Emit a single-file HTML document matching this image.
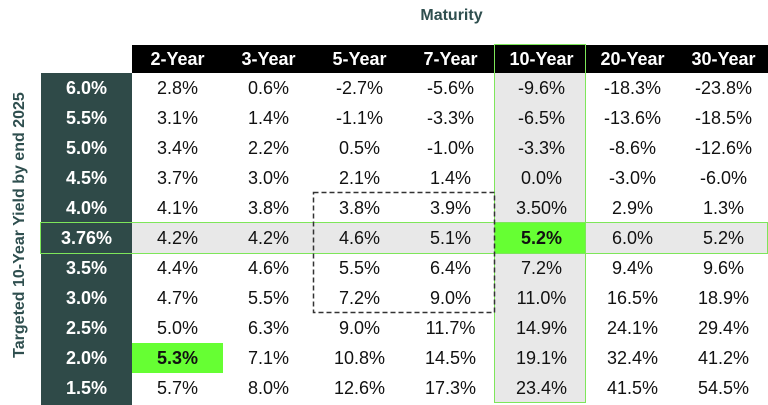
<!DOCTYPE html>
<html><head><style>
body{margin:0;width:768px;height:405px;background:#fff;position:relative;overflow:hidden;font-family:"Liberation Sans",sans-serif;}
.a{position:absolute;}
.c{position:absolute;width:91px;height:30px;line-height:30px;text-align:center;font-size:18px;color:#111;}
.h{color:#fff;font-weight:bold;font-size:18px;}
.l{color:#fff;font-weight:bold;font-size:18px;}
</style></head><body>
<div class="a" style="left:395px;top:7px;width:113px;text-align:center;font-weight:bold;font-size:16px;color:#2f4f4f;">Maturity</div>
<div class="a" style="left:132px;top:45px;width:636px;height:28px;background:#000;"></div>
<div class="a" style="left:41px;top:73px;width:91px;height:332px;background:#2f4a48;"></div>
<div class="a" style="left:132px;top:223px;width:636px;height:30px;background:#e8e8e8;"></div>
<div class="a" style="left:495px;top:73px;width:91px;height:330px;background:#e8e8e8;"></div>
<div class="a" style="left:495px;top:223px;width:91px;height:30px;background:#66ff33;"></div>
<div class="a" style="left:132px;top:343px;width:91px;height:30px;background:#66ff33;"></div>
<div class="a" style="left:40px;top:222px;width:726px;height:30px;border:1.5px solid #7ee65a;"></div>
<div class="a" style="left:494px;top:44px;width:90px;height:357px;border:1.5px solid #7ee65a;"></div>
<svg class="a" style="left:0;top:0;" width="768" height="405"><rect x="313.5" y="192.5" width="181" height="120" fill="none" stroke="#333" stroke-width="1.5" stroke-dasharray="5,3"/></svg>
<div class="a" style="left:20px;top:225px;width:0;height:0;">
<div style="position:absolute;left:-170px;top:-10px;width:340px;text-align:center;transform:rotate(-90deg);font-weight:bold;font-size:16px;color:#2f4f4f;line-height:20px;">Targeted 10-Year Yield by end 2025</div></div>
<div id="g"></div>
<script>
var cols=["2-Year","3-Year","5-Year","7-Year","10-Year","20-Year","30-Year"];
var rows=[["6.0%","2.8%","0.6%","-2.7%","-5.6%","-9.6%","-18.3%","-23.8%"],
["5.5%","3.1%","1.4%","-1.1%","-3.3%","-6.5%","-13.6%","-18.5%"],
["5.0%","3.4%","2.2%","0.5%","-1.0%","-3.3%","-8.6%","-12.6%"],
["4.5%","3.7%","3.0%","2.1%","1.4%","0.0%","-3.0%","-6.0%"],
["4.0%","4.1%","3.8%","3.8%","3.9%","3.50%","2.9%","1.3%"],
["3.76%","4.2%","4.2%","4.6%","5.1%","5.2%","6.0%","5.2%"],
["3.5%","4.4%","4.6%","5.5%","6.4%","7.2%","9.4%","9.6%"],
["3.0%","4.7%","5.5%","7.2%","9.0%","11.0%","16.5%","18.9%"],
["2.5%","5.0%","6.3%","9.0%","11.7%","14.9%","24.1%","29.4%"],
["2.0%","5.3%","7.1%","10.8%","14.5%","19.1%","32.4%","41.2%"],
["1.5%","5.7%","8.0%","12.6%","17.3%","23.4%","41.5%","54.5%"]];
var h="";
for(var i=0;i<7;i++)h+='<div class="c h" style="left:'+(132+91*i)+'px;top:44px;">'+cols[i]+'</div>';
for(var r=0;r<11;r++){var y=73+30*r;
for(var j=0;j<8;j++){var x=41+91*j;var cls=j==0?"c l":"c";var st="";
if((r==5&&j==5)||(r==9&&j==1))st="font-weight:bold;";
h+='<div class="'+cls+'" style="left:'+x+'px;top:'+y+'px;'+st+'">'+rows[r][j]+'</div>';}}
document.getElementById("g").innerHTML=h;
</script>
</body></html>
